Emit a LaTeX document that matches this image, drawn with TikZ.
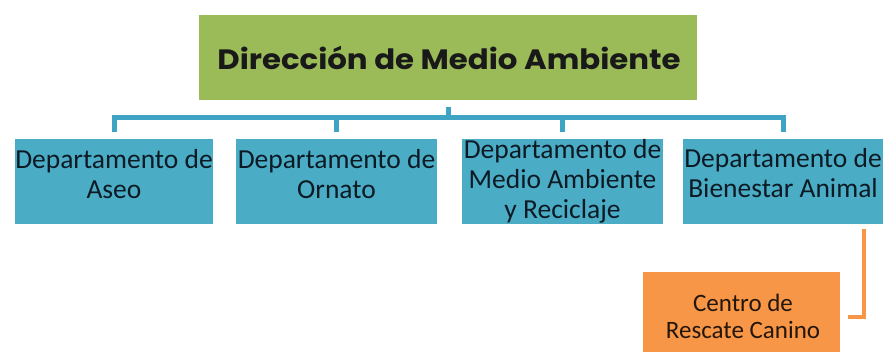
\documentclass[tikz,border=0pt]{standalone}
\usepackage{fontspec}
\setmainfont{Carlito}
\newfontfamily\titlefont{Poppins}
\definecolor{dgreen}{HTML}{9BBB59}
\definecolor{dblue}{HTML}{4BACC6}
\definecolor{lblue}{HTML}{3FA3C4}
\definecolor{dorange}{HTML}{F79646}
\definecolor{btext}{HTML}{0C1A24}
\definecolor{otext}{HTML}{24160A}
\tikzset{
  topbox/.style={fill=dgreen, draw=none, minimum width=498pt, minimum height=85pt, inner sep=0pt},
  deptbox/.style={fill=dblue, draw=none, minimum height=85pt, inner sep=0pt},
  deptlabel/.style={align=center, text=btext, font=\fontsize{27.5}{30}\selectfont, inner sep=0pt},
  orbox/.style={fill=dorange, draw=none, minimum width=197pt, minimum height=90pt, inner sep=0pt},
  orlabel/.style={align=center, text=otext, font=\fontsize{25}{27}\selectfont, inner sep=0pt},
  conn/.style={draw=lblue, line width=5pt},
  oconn/.style={draw=dorange, line width=4pt},
}
\begin{document}
\begin{tikzpicture}[x=1pt,y=-1pt]
\useasboundingbox (0,0) rectangle (883,352);
\begin{scope}
\clip (0,0) rectangle (883,352);
% top box
\node[topbox] (dir) at (448,57.5) {};
\node[text=black!90, font=\titlefont\bfseries\fontsize{28}{30}\selectfont, inner sep=0pt] (dirt) at (449,57.5) {\scalebox{1.1}[1]{Dirección de Medio Ambiente}};
% department boxes
\node[deptbox, minimum width=198pt] (d1) at (114,181.5) {};
\node[deptbox, minimum width=201pt] (d2) at (336.5,181.5) {};
\node[deptbox, minimum width=201pt] (d3) at (562.5,181.5) {};
\node[deptbox, minimum width=201pt] (d4) at (783,181.5) {};
\node[deptlabel] (t1) at (114,174.5) {Departamento de\\Aseo};
\node[deptlabel] (t2) at (336.5,174.5) {Departamento de\\Ornato};
\node[deptlabel] (t3) at (562.5,181) {Departamento de\\Medio Ambiente\\y Reciclaje};
\node[deptlabel] (t4) at (783,173.5) {Departamento de\\Bienestar Animal};
% orange box
\node[orbox] (cr) at (741.5,317) {};
\node[orlabel] (crt) at (743,316.5) {Centro de\\Rescate Canino};
\end{scope}
% connectors
\coordinate (busy) at (0,117.5);
\coordinate (ox) at (864,0);
\draw[conn] ([yshift=-7pt]dir.south) -- (dir.south |- busy);
\draw[conn] ([yshift=7pt]d1.north) |- (d4.north |- busy) -- ([yshift=7pt]d4.north);
\draw[conn] ([yshift=7pt]d2.north) -- (d2.north |- busy);
\draw[conn] ([yshift=7pt]d3.north) -- (d3.north |- busy);
\draw[oconn] ([yshift=-5pt]d4.south -| ox) |- ([xshift=8pt]cr.east);
\end{tikzpicture}
\end{document}
